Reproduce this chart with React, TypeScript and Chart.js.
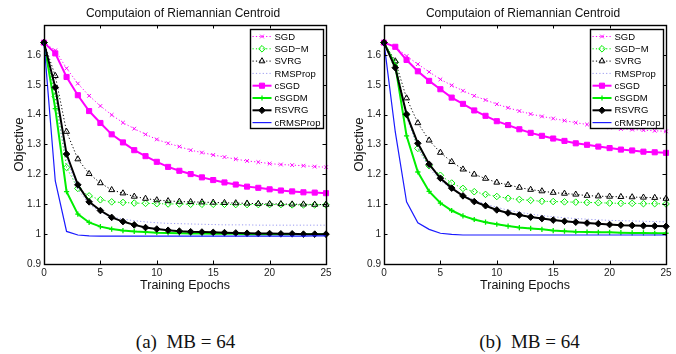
import React, { useEffect, useRef } from "react";
import { Chart, registerables } from "chart.js";
import { drawPoint } from "chart.js/helpers";

Chart.register(...registerables);

// ---------------- data ----------------
const epochs = [0,1,2,3,4,5,6,7,8,9,10,11,12,13,14,15,16,17,18,19,20,21,22,23,24,25];
const seriesNames = ["SGD","SGD\u2212M","SVRG","RMSProp","cSGD","cSGDM","RSVRG","cRMSProp"];
const yTickValues = [0.9,1.0,1.1,1.2,1.3,1.4,1.5,1.6,1.7];
const xTickValues = [0,5,10,15,20,25];
const panelTitle = "Computaion of Riemannian Centroid";
const xAxisLabel = "Training Epochs";
const yAxisLabel = "Objective";
const captions = ["(a)  MB = 64", "(b)  MB = 64"];

// panel (a)
const sgdA = [1.641,1.615,1.555,1.504,1.463,1.429,1.399,1.373,1.353,1.334,1.317,1.304,1.293,1.281,1.273,1.265,1.258,1.251,1.245,1.241,1.236,1.233,1.231,1.229,1.226,1.224];
const sgdmA = [1.641,1.46,1.223,1.153,1.128,1.115,1.108,1.106,1.104,1.103,1.102,1.101,1.101,1.100,1.100,1.100,1.100,1.099,1.099,1.099,1.099,1.099,1.098,1.098,1.098,1.098];
const svrgA = [1.641,1.530,1.343,1.251,1.202,1.171,1.148,1.137,1.126,1.119,1.114,1.111,1.109,1.108,1.107,1.106,1.105,1.104,1.103,1.102,1.101,1.101,1.100,1.100,1.099,1.099];
const rmspropA = [1.641,1.43,1.25,1.15,1.10,1.073,1.058,1.05,1.045,1.041,1.038,1.036,1.035,1.034,1.033,1.032,1.031,1.031,1.031,1.030,1.030,1.030,1.030,1.030,1.030,1.030];
const csgdA = [1.641,1.605,1.526,1.465,1.412,1.372,1.334,1.307,1.281,1.261,1.242,1.225,1.212,1.201,1.190,1.181,1.173,1.166,1.159,1.155,1.150,1.146,1.143,1.140,1.139,1.137];
const csgdmA = [1.641,1.420,1.142,1.067,1.039,1.025,1.017,1.012,1.009,1.007,1.005,1.004,1.003,1.002,1.002,1.001,1.001,1.001,1.000,1.000,1.000,1.000,1.000,1.000,1.000,1.000];
const rsvrgA = [1.641,1.491,1.268,1.165,1.108,1.079,1.056,1.042,1.031,1.022,1.017,1.013,1.010,1.008,1.007,1.006,1.005,1.004,1.003,1.002,1.002,1.001,1.001,1.000,1.000,1.000];
const crmspropA = [1.641,1.178,1.009,0.997,0.994,0.993,0.993,0.993,0.993,0.993,0.993,0.993,0.993,0.993,0.993,0.993,0.993,0.993,0.993,0.993,0.993,0.993,0.993,0.993,0.994,0.994];

// panel (b)
const sgdB = [1.641,1.627,1.596,1.569,1.543,1.518,1.498,1.480,1.463,1.449,1.435,1.423,1.412,1.402,1.394,1.387,1.380,1.373,1.367,1.362,1.357,1.352,1.350,1.348,1.346,1.344];
const sgdmB = [1.641,1.575,1.40,1.287,1.229,1.197,1.171,1.153,1.142,1.133,1.126,1.120,1.116,1.113,1.110,1.109,1.108,1.107,1.106,1.105,1.104,1.103,1.103,1.102,1.102,1.101];
const svrgB = [1.641,1.579,1.455,1.372,1.314,1.273,1.242,1.217,1.200,1.186,1.173,1.165,1.156,1.149,1.144,1.139,1.136,1.133,1.129,1.127,1.126,1.125,1.124,1.123,1.122,1.119];
const rmspropB = [1.641,1.56,1.39,1.29,1.22,1.18,1.15,1.13,1.115,1.10,1.09,1.08,1.073,1.067,1.062,1.058,1.055,1.052,1.050,1.048,1.046,1.045,1.044,1.043,1.042,1.041];
const csgdB = [1.641,1.627,1.583,1.545,1.513,1.485,1.457,1.436,1.414,1.396,1.378,1.365,1.351,1.339,1.329,1.320,1.312,1.304,1.299,1.293,1.288,1.283,1.280,1.276,1.274,1.272];
const csgdmB = [1.641,1.565,1.329,1.208,1.143,1.104,1.079,1.061,1.049,1.040,1.033,1.027,1.022,1.019,1.016,1.012,1.010,1.008,1.007,1.006,1.006,1.005,1.004,1.004,1.003,1.003];
const rsvrgB = [1.641,1.557,1.401,1.304,1.234,1.187,1.154,1.128,1.109,1.095,1.081,1.071,1.064,1.057,1.052,1.047,1.043,1.040,1.037,1.035,1.032,1.030,1.029,1.028,1.027,1.026];
const crmspropB = [1.641,1.342,1.108,1.038,1.016,1.003,0.999,0.997,0.997,0.997,0.997,0.997,0.997,0.997,0.997,0.997,0.997,0.997,0.997,0.997,0.997,0.997,0.997,0.997,0.997,0.997];

const panelA = [sgdA, sgdmA, svrgA, rmspropA, csgdA, csgdmA, rsvrgA, crmspropA];
const panelB = [sgdB, sgdmB, svrgB, rmspropB, csgdB, csgdmB, rsvrgB, crmspropB];

// ---------------- styles ----------------
const MAG = "#ff00ff";
const GRN = "#00ee00";
const BLK = "#000000";
const LAV = "#9a9af0";
const BLU = "#1a1aff";
const NONE = "rgba(0,0,0,0)";
const DOT = [1.2, 2.2];

const styles = [
  { color: MAG, width: 1, dash: DOT, point: "crossRot", radius: 2.6, fill: NONE, pbw: 1 },
  { color: GRN, width: 1, dash: DOT, point: "rectRot", radius: 3.3, fill: NONE, pbw: 1 },
  { color: BLK, width: 1, dash: DOT, point: "triangle", radius: 3.4, fill: NONE, pbw: 1 },
  { color: LAV, width: 1, dash: DOT, point: false, radius: 0, fill: NONE, pbw: 0 },
  { color: MAG, width: 2, dash: [], point: "rect", radius: 3.6, fill: MAG, pbw: 1 },
  { color: GRN, width: 2, dash: [], point: "cross", radius: 2.6, fill: GRN, pbw: 1.3 },
  { color: BLK, width: 2, dash: [], point: "rectRot", radius: 3.3, fill: BLK, pbw: 1 },
  { color: BLU, width: 1.2, dash: [], point: false, radius: 0, fill: NONE, pbw: 0 },
];

const FONT = '"Liberation Sans", Arial, sans-serif';

// ---------------- plugins ----------------
const frameAndLegend = {
  id: "frameAndLegend",
  afterDatasetsDraw(chart: any) {
    const { ctx, chartArea } = chart;
    const { left, right, top, bottom } = chartArea;
    const xs = chart.scales.x;
    const ys = chart.scales.y;
    ctx.save();
    ctx.setLineDash([]);
    ctx.strokeStyle = "#000";
    ctx.lineWidth = 1;
    // inward ticks
    const tl = 3.5;
    ctx.beginPath();
    xs.ticks.forEach((t: any) => {
      const px = Math.round(xs.getPixelForValue(t.value)) + 0.5;
      ctx.moveTo(px, bottom); ctx.lineTo(px, bottom - tl);
      ctx.moveTo(px, top); ctx.lineTo(px, top + tl);
    });
    ys.ticks.forEach((t: any) => {
      const py = Math.round(ys.getPixelForValue(t.value)) + 0.5;
      ctx.moveTo(left, py); ctx.lineTo(left + tl, py);
      ctx.moveTo(right, py); ctx.lineTo(right - tl, py);
    });
    ctx.stroke();
    // box
    ctx.lineWidth = 1.4;
    ctx.strokeRect(Math.round(left) + 0.5, Math.round(top) + 0.5, Math.round(right - left), Math.round(bottom - top));

    // legend
    ctx.font = "9.5px " + FONT;
    const ds = chart.data.datasets;
    const textW = Math.max(...ds.map((d: any) => ctx.measureText(d.label).width));
    const padL = 2, lineLen = 19, gap = 3, padR = 3, rowH = 12.3, padT = 7;
    const w = Math.round(padL + lineLen + gap + textW + padR);
    const h = Math.round(padT + (ds.length - 1) * rowH + padT - 1);
    const x0 = Math.round(right - 3 - w) + 0.5;
    const y0 = Math.round(top + 4) + 0.5;
    ctx.fillStyle = "#fff";
    ctx.fillRect(x0, y0, w, h);
    ctx.lineWidth = 1.4;
    ctx.strokeStyle = "#000";
    ctx.strokeRect(x0, y0, w, h);
    ds.forEach((d: any, i: number) => {
      const y = y0 + padT + i * rowH;
      const lx = x0 + padL;
      ctx.save();
      ctx.strokeStyle = d.borderColor;
      ctx.lineWidth = d.borderWidth;
      ctx.setLineDash(d.borderDash || []);
      ctx.beginPath();
      ctx.moveTo(lx, y); ctx.lineTo(lx + lineLen, y);
      ctx.stroke();
      ctx.setLineDash([]);
      if (d.pointStyle) {
        ctx.fillStyle = d.pointBackgroundColor;
        ctx.strokeStyle = d.pointBorderColor;
        ctx.lineWidth = d.pointBorderWidth;
        drawPoint(ctx, { pointStyle: d.pointStyle, radius: d.pointRadius, rotation: 0, borderWidth: d.pointBorderWidth }, lx + lineLen / 2, y);
      }
      ctx.restore();
      ctx.fillStyle = "#000";
      ctx.textBaseline = "middle";
      ctx.textAlign = "left";
      ctx.fillText(d.label, lx + lineLen + gap, y + 0.5);
    });
    ctx.restore();
  },
  afterDraw(chart: any) {
    const { ctx, chartArea } = chart;
    ctx.save();
    ctx.font = "12px " + FONT;
    ctx.fillStyle = "#111";
    ctx.textAlign = "center";
    ctx.textBaseline = "middle";
    ctx.fillText(panelTitle, (chartArea.left + chartArea.right) / 2 - 2, 13.5);
    ctx.restore();
  },
};

function Panel({ series, left, width, padRight }: { series: number[][]; left: number; width: number; padRight: number }) {
  const ref = useRef<HTMLCanvasElement>(null);
  useEffect(() => {
    const canvas = ref.current!;
    const datasets = series.map((vals, i) => {
      const s = styles[i];
      return {
        label: seriesNames[i],
        data: vals.map((v, k) => ({ x: epochs[k], y: v })),
        borderColor: s.color,
        borderWidth: s.width,
        borderDash: s.dash,
        pointStyle: s.point,
        pointRadius: s.radius,
        pointBackgroundColor: s.fill,
        pointBorderColor: s.color,
        pointBorderWidth: s.pbw,
        pointHoverRadius: s.radius,
        tension: 0,
        fill: false,
        clip: false as any,
        order: series.length - i,
      };
    });
    const chart = new Chart(canvas, {
      type: "line",
      data: { datasets: datasets as any },
      plugins: [frameAndLegend],
      options: {
        animation: false,
        responsive: false,
        devicePixelRatio: 1,
        layout: { padding: { top: 25, right: padRight, bottom: 0, left: 0 } },
        plugins: { legend: { display: false }, tooltip: { enabled: false }, title: { display: false } },
        scales: {
          x: {
            type: "linear",
            min: 0,
            max: 25,
            afterBuildTicks: (s: any) => { s.ticks = xTickValues.map((v) => ({ value: v })); },
            afterFit: (s: any) => { s.height = 36; },
            grid: { display: false, drawTicks: false },
            border: { display: false },
            ticks: { color: "#222", font: { family: FONT, size: 10 }, padding: 3, maxRotation: 0, callback: (v: any) => String(v) },
            title: { display: true, text: xAxisLabel, color: "#111", font: { family: FONT, size: 12.5 }, padding: { top: 0, bottom: 7 } },
          },
          y: {
            type: "linear",
            min: 0.9,
            max: 1.7,
            afterBuildTicks: (s: any) => { s.ticks = yTickValues.map((v) => ({ value: v })); },
            afterFit: (s: any) => { s.width = 44; },
            grid: { display: false, drawTicks: false },
            border: { display: false },
            ticks: {
              color: "#222",
              font: { family: FONT, size: 10 },
              padding: 3,
              callback: (v: any) => { const r = Math.round(Number(v) * 10) / 10; return r >= 1.65 ? "" : String(r); },
            },
            title: { display: true, text: yAxisLabel, color: "#111", font: { family: FONT, size: 13 }, padding: { top: 12, bottom: 0 } },
          },
        },
      } as any,
    });
    return () => chart.destroy();
  }, [series]);
  return (
    <canvas ref={ref} width={width} height={300} style={{ position: "absolute", left, top: 0, width, height: 300 }} />
  );
}

export default function App() {
  return (
    <div style={{ position: "absolute", left: 0, top: 0, width: 676, height: 354, background: "#fff", overflow: "hidden" }}>
      <Panel series={panelA} left={0} width={338} padRight={12} />
      <Panel series={panelB} left={340} width={336} padRight={10} />
      {captions.map((c, i) => (
        <div
          key={i}
          style={{
            position: "absolute",
            left: (i === 0 ? 185.5 : 529.5) - 120,
            width: 240,
            top: 330,
            lineHeight: "24px",
            textAlign: "center",
            fontFamily: '"Liberation Serif", "Times New Roman", serif',
            fontSize: 19,
            color: "#111",
            whiteSpace: "pre",
          }}
        >
          {c}
        </div>
      ))}
    </div>
  );
}
